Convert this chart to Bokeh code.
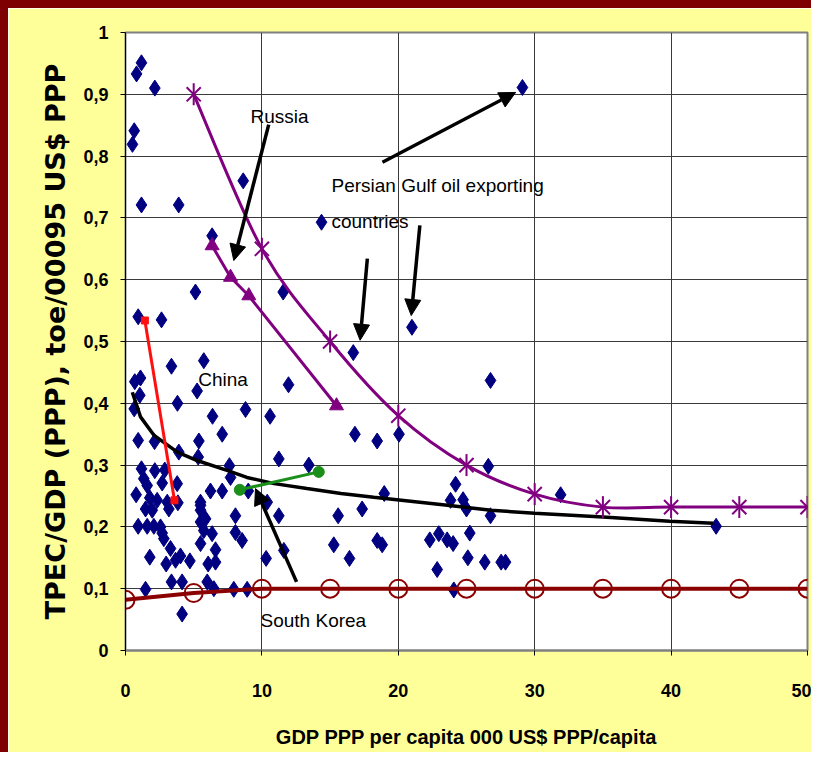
import numpy as np
from bokeh.plotting import figure
from bokeh.layouts import column, row
from bokeh.models import (Range1d, FixedTicker, CustomJSTickFormatter, Arrow,
                          NormalHead, ColumnDataSource, Spacer)
from bokeh.core.properties import value
from bokeh.embed import file_html
from bokeh.resources import INLINE

# ---------------- data ----------------
country_x = [1.17, 0.81, 2.15, 0.64, 0.51, 1.17, 3.9, 8.63, 6.35, 5.13, 11.56, 14.37,
             0.93, 2.64, 29.1, 21.0, 16.7,
             3.37, 5.74, 0.68, 1.1, 1.05, 5.25, 3.81, 11.95, 0.64, 8.8, 10.6, 6.38,
             0.93, 2.13, 7.09, 5.38, 16.82, 18.45, 20.05, 3.91, 5.33, 11.24, 7.62,
             13.44, 1.17, 2.15, 2.88, 1.34, 7.7, 3.79, 2.69, 1.59, 0.78, 6.23, 7.09,
             9.0, 18.97, 1.78, 2.32, 3.06, 3.84, 5.5, 10.39, 1.47, 1.96, 3.18, 5.5,
             8.06, 11.24, 15.59, 17.35, 0.93, 1.59, 2.08, 2.57, 5.5, 5.74, 6.35, 8.06,
             2.69, 2.81, 8.55, 5.5, 15.27, 18.45, 18.82, 3.3, 6.6, 1.78, 4.03, 4.72,
             2.98, 6.06, 6.6, 10.31, 11.61, 16.42, 3.37, 4.15, 5.99, 1.47, 6.48, 7.94,
             8.92, 4.15, 5.5, 5.87, 3.67,
             26.6, 24.2, 23.83, 24.75, 25.0, 26.76, 22.31, 22.97, 23.58, 24.02, 25.24,
             25.1, 26.34, 27.54, 27.86, 22.85, 26.76, 31.9, 43.3, 24.07]
country_y = [0.951, 0.933, 0.910, 0.841, 0.819, 0.721, 0.721, 0.760, 0.671, 0.580, 0.580, 0.693,
             0.540, 0.535, 0.911, 0.523, 0.482,
             0.460, 0.469, 0.435, 0.441, 0.413, 0.420, 0.400, 0.430, 0.391, 0.390, 0.379, 0.379,
             0.340, 0.338, 0.350, 0.339, 0.350, 0.339, 0.350, 0.321, 0.313, 0.310, 0.299,
             0.300, 0.294, 0.291, 0.292, 0.278, 0.280, 0.270, 0.271, 0.267, 0.252, 0.258, 0.258,
             0.258, 0.254, 0.247, 0.243, 0.240, 0.239, 0.240, 0.240, 0.229, 0.227, 0.229, 0.227,
             0.218, 0.218, 0.218, 0.229, 0.201, 0.201, 0.201, 0.200, 0.208, 0.194, 0.189, 0.191,
             0.190, 0.181, 0.178, 0.173, 0.171, 0.178, 0.171, 0.165, 0.163, 0.151, 0.153, 0.145,
             0.140, 0.140, 0.143, 0.149, 0.162, 0.149, 0.111, 0.111, 0.111, 0.099, 0.100, 0.099,
             0.099, 0.059, 0.235, 0.213, 0.146,
             0.298, 0.269, 0.243, 0.244, 0.229, 0.218, 0.179, 0.189, 0.179, 0.173, 0.190,
             0.150, 0.143, 0.143, 0.143, 0.131, 0.437, 0.252, 0.201, 0.098]

trend_x = [0.5, 1.1, 2.1, 3.8, 5.3, 7.5, 8.9, 10.9, 13.3, 15.8, 18.2, 23.6, 26.8,
           30.0, 35.0, 39.9, 43.1]
trend_y = [0.418, 0.378, 0.348, 0.321, 0.307, 0.291, 0.280, 0.270, 0.262, 0.254, 0.248,
           0.235, 0.227, 0.222, 0.216, 0.209, 0.206]

star_x = [5, 10, 15, 20, 25, 30, 35, 40, 45, 50]
star_y = [0.90, 0.65, 0.50, 0.38, 0.30, 0.253, 0.232, 0.232, 0.232, 0.232]

tri_x = [6.35, 7.7, 9.04, 15.47]
tri_y = [0.655, 0.604, 0.574, 0.396]

circ_x = [0, 5, 10, 15, 20, 25, 30, 35, 40, 45, 50]
circ_y = [0.082, 0.093, 0.100, 0.100, 0.100, 0.100, 0.100, 0.100, 0.100, 0.100, 0.100]

china_x = [1.42, 3.59]
china_y = [0.534, 0.243]

korea_x = [8.38, 14.17]
korea_y = [0.260, 0.289]

x_ticks = [0, 10, 20, 30, 40, 50]
y_ticks = [0, 0.1, 0.2, 0.3, 0.4, 0.5, 0.6, 0.7, 0.8, 0.9, 1.0]

label_text = ["Russia", "Persian Gulf oil exporting", "countries", "China", "South Korea"]
label_x = [9.16, 15.1, 15.1, 5.33, 9.9]
label_y = [0.864, 0.752, 0.694, 0.4385, 0.0485]

arrow_x0 = [10.5, 18.84, 17.73, 21.58, 12.54]
arrow_y0 = [0.851, 0.790, 0.634, 0.688, 0.111]
arrow_x1 = [7.94, 28.6, 17.2, 20.95, 9.53]
arrow_y1 = [0.631, 0.903, 0.502, 0.542, 0.262]

x_title = "GDP PPP per capita 000 US$ PPP/capita"
y_title = "TPEC/GDP (PPP), toe/00095 US$ PPP"

# ---------------- styling ----------------
EDGE = 8
W, H = 803, 744
YELLOW = "#FFFF99"
NAVY = "#000080"
PURPLE = "#800080"
MAROON = "#8B0000"
FRAME_RED = "#7F0000"
SANS = "Liberation Sans"

p = figure(width=W, height=H, output_backend="svg", toolbar_location=None,
           x_range=Range1d(0, 50), y_range=Range1d(0, 1),
           min_border_left=117, min_border_right=4, min_border_top=24,
           min_border_bottom=102)
p.background_fill_color = "white"
p.border_fill_color = YELLOW
p.outline_line_color = "#808080"
p.outline_line_width = 2

p.xaxis.ticker = FixedTicker(ticks=x_ticks)
p.yaxis.ticker = FixedTicker(ticks=y_ticks)
p.xgrid.ticker = FixedTicker(ticks=x_ticks)
p.ygrid.ticker = FixedTicker(ticks=y_ticks)
for g in (p.xgrid, p.ygrid):
    g.grid_line_color = "#3a3a3a"
    g.grid_line_width = 1

p.yaxis.formatter = CustomJSTickFormatter(code="""
    if (Math.abs(tick - Math.round(tick)) < 1e-9) { return String(Math.round(tick)); }
    return tick.toFixed(1).replace('.', ',');
""")

for ax in (p.xaxis, p.yaxis):
    ax.major_label_text_font = SANS
    ax.major_label_text_font_style = "bold"
    ax.major_label_text_font_size = "18px"
    ax.major_label_text_color = "black"
    ax.axis_label_text_font_style = "bold"
    ax.axis_label_text_color = "black"
    ax.major_tick_in = 0
    ax.major_tick_out = 5
    ax.minor_tick_line_color = None
    ax.major_tick_line_color = "black"

p.xaxis.axis_line_color = "#808080"
p.xaxis.axis_line_width = 2
p.xaxis.major_label_standoff = 28
p.xaxis.axis_label = x_title
p.xaxis.axis_label_text_font = SANS
p.xaxis.axis_label_text_font_size = "20px"
p.xaxis.axis_label_standoff = 26

p.yaxis.axis_line_color = "black"
p.yaxis.axis_line_width = 1
p.yaxis.major_label_standoff = 12
p.yaxis.axis_label = y_title
p.yaxis.axis_label_text_font = "DejaVu Sans"
p.yaxis.axis_label_text_font_size = "27px"
p.yaxis.axis_label_standoff = 9

# scatter of countries
p.scatter(country_x, country_y, marker="diamond", size=16, fill_color=NAVY,
          line_color=NAVY)

# trend line (black)
p.line(trend_x, trend_y, line_color="black", line_width=3.5)

# maroon line with open circles
p.line(circ_x, circ_y, line_color=MAROON, line_width=4)
p.scatter(circ_x, circ_y, marker="circle", size=18, fill_alpha=0,
          line_color=MAROON, line_width=2)

# purple smoothed curve (Bezier segments through the data points)
sx = np.array(star_x, dtype=float)
sy = np.array(star_y, dtype=float)
n = len(sx)
x0s, y0s, x1s, y1s, cx0, cy0, cx1, cy1 = [], [], [], [], [], [], [], []
for i in range(n - 1):
    ip = max(i - 1, 0)
    inx = min(i + 2, n - 1)
    x0s.append(sx[i]); y0s.append(sy[i])
    x1s.append(sx[i + 1]); y1s.append(sy[i + 1])
    cx0.append(sx[i] + (sx[i + 1] - sx[ip]) / 6.0)
    cy0.append(sy[i] + (sy[i + 1] - sy[ip]) / 6.0)
    cx1.append(sx[i + 1] - (sx[inx] - sx[i]) / 6.0)
    cy1.append(sy[i + 1] - (sy[inx] - sy[i]) / 6.0)
p.bezier(x0=x0s, y0=y0s, x1=x1s, y1=y1s, cx0=cx0, cy0=cy0, cx1=cx1, cy1=cy1,
         line_color=PURPLE, line_width=3, line_cap="round")
p.scatter(star_x, star_y, marker="x", size=20, line_color=PURPLE, line_width=2)
p.scatter(star_x, star_y, marker="dash", angle=np.pi / 2, size=22,
          line_color=PURPLE, line_width=2)

# purple triangles line
p.line(tri_x, tri_y, line_color=PURPLE, line_width=3)
p.scatter(tri_x, tri_y, marker="triangle", size=14, fill_color=PURPLE,
          line_color=PURPLE)

# China (red)
p.line(china_x, china_y, line_color="#FF1010", line_width=3)
p.scatter(china_x, china_y, marker="square", size=7, fill_color="#FF1010",
          line_color="#FF1010")

# South Korea (green)
p.line(korea_x, korea_y, line_color="#1A8F1A", line_width=3)
p.scatter(korea_x, korea_y, marker="circle", size=11, fill_color="#1A8F1A",
          line_color="#1A8F1A")

# annotation texts
p.text(x=label_x, y=label_y, text=label_text, text_font=value(SANS),
       text_font_size="19px", text_baseline="middle", text_align="left",
       text_color="black")

# arrows
arrow_src = ColumnDataSource(dict(x0=arrow_x0, y0=arrow_y0, x1=arrow_x1, y1=arrow_y1))
p.add_layout(Arrow(x_start="x0", y_start="y0", x_end="x1", y_end="y1",
                   source=arrow_src, line_color="black", line_width=3.5,
                   end=NormalHead(size=16, fill_color="black", line_color="black")))

# dark red slide edge on the left and top
top_edge = Spacer(width=W + EDGE, height=EDGE, styles={"background-color": FRAME_RED})
left_edge = Spacer(width=EDGE, height=H, styles={"background-color": FRAME_RED})
page = column(top_edge, row(left_edge, p, spacing=0), spacing=0)

open("out.html", "w").write(file_html(page, INLINE))
